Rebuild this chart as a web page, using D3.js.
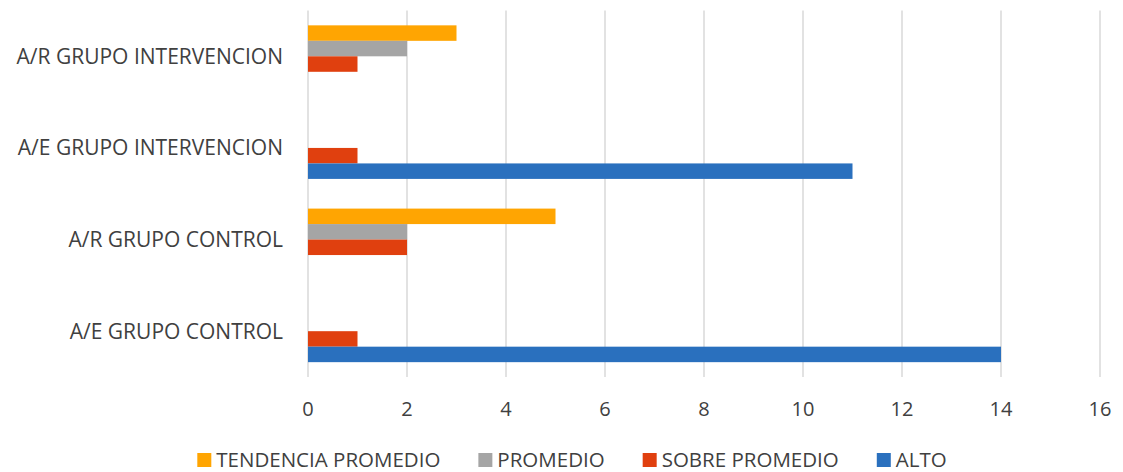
<!DOCTYPE html>
<html>
<head>
<meta charset="utf-8">
<script src="https://cdn.jsdelivr.net/npm/d3@7"></script>
<style>
  body { margin: 0; background: #fff; }
  text { font-family: "Open Sans", "Noto Sans", sans-serif; fill: #404040; }
</style>
</head>
<body>
<div id="chart"></div>
<script>
// categories, top to bottom
var categories = ["A/R GRUPO INTERVENCION", "A/E GRUPO INTERVENCION", "A/R GRUPO CONTROL", "A/E GRUPO CONTROL"];
var series = ["TENDENCIA PROMEDIO", "PROMEDIO", "SOBRE PROMEDIO", "ALTO"];
var tendencia = [3, 0, 5, 0];
var promedio = [2, 0, 2, 0];
var sobre = [1, 1, 2, 1];
var alto = [0, 11, 0, 14];
var ticks = [0, 2, 4, 6, 8, 10, 12, 14, 16];

var color = {
  "TENDENCIA PROMEDIO": "#FFA502",
  "PROMEDIO": "#A5A5A5",
  "SOBRE PROMEDIO": "#E0400F",
  "ALTO": "#2A70BE"
};

var W = 1123, H = 472;
var plot = {l: 308, r: 1100, t: 10.5, b: 377};

var svg = d3.select("#chart").append("svg")
  .attr("width", W).attr("height", H);

var x = d3.scaleLinear().domain([0, 16]).range([plot.l, plot.r]);
var y = d3.scaleBand().domain(categories).range([plot.t, plot.b])
  .paddingInner(0.324).paddingOuter(0.162);
var ys = d3.scaleBand().domain(series).range([0, y.bandwidth()]);

var rows = categories.map(function(c, i) {
  return {cat: c, vals: [tendencia[i], promedio[i], sobre[i], alto[i]]};
});

// gridlines
svg.append("g").selectAll("line")
  .data(ticks)
  .enter().append("line")
  .attr("x1", function(d) { return x(d); })
  .attr("x2", function(d) { return x(d); })
  .attr("y1", plot.t)
  .attr("y2", plot.b)
  .style("stroke", "#d9d9d9")
  .style("stroke-width", 1.5);

// bars
var groups = svg.append("g").selectAll("g")
  .data(rows)
  .enter().append("g")
  .attr("transform", function(d) { return "translate(0," + y(d.cat) + ")"; });

groups.selectAll("rect")
  .data(function(d) { return d.vals.map(function(v, j) { return {s: series[j], v: v}; }); })
  .enter().append("rect")
  .filter(function(d) { return d.v > 0; })
  .attr("x", x(0))
  .attr("y", function(d) { return ys(d.s); })
  .attr("width", function(d) { return x(d.v) - x(0); })
  .attr("height", ys.bandwidth())
  .style("fill", function(d) { return color[d.s]; });

// category labels
svg.append("g").selectAll("text")
  .data(categories)
  .enter().append("text")
  .attr("x", 283)
  .attr("y", function(d) { return y(d) + y.bandwidth() / 2; })
  .attr("dy", "0.35em")
  .attr("text-anchor", "end")
  .style("font-size", "21px")
  .text(function(d) { return d; });

// x tick labels
svg.append("g").selectAll("text")
  .data(ticks)
  .enter().append("text")
  .attr("x", function(d) { return x(d); })
  .attr("y", 416)
  .attr("text-anchor", "middle")
  .style("font-size", "20px")
  .text(function(d) { return d; });

// legend
var legend = svg.append("g");
var items = legend.selectAll("g")
  .data(series)
  .enter().append("g");
items.append("rect")
  .attr("width", 14).attr("height", 14)
  .attr("y", 453)
  .style("fill", function(d) { return color[d]; });
items.append("text")
  .attr("x", 19)
  .attr("y", 466.5)
  .style("font-size", "20.5px")
  .text(function(d) { return d; });

var pos = 0, gap = 38;
items.each(function() {
  var g = d3.select(this);
  g.attr("transform", "translate(" + pos + ",0)");
  pos += 19 + g.select("text").node().getComputedTextLength() + gap;
});
var total = pos - gap;
legend.attr("transform", "translate(" + (572 - total / 2) + ",0)");
</script>
</body>
</html>
